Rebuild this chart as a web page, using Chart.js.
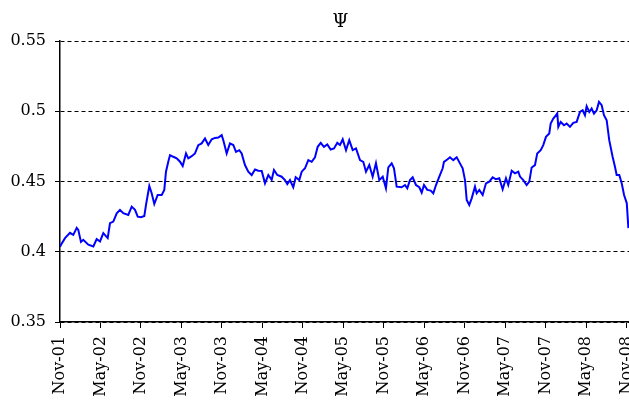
<!DOCTYPE html>
<html>
<head>
<meta charset="utf-8">
<script src="https://cdn.jsdelivr.net/npm/chart.js@4"></script>
<style>
  html, body { margin: 0; padding: 0; background: #fff; }
  #wrap { width: 629px; height: 400px; }
</style>
</head>
<body>
<div id="wrap"><canvas id="psi-chart" width="629" height="400"></canvas></div>
<script>
// months counted from Nov-01
const months = [
  0, 0.15, 0.74, 1.48, 1.97, 2.48, 2.71, 3.11, 3.45, 4.2, 4.94, 5.44, 5.93, 6.42, 7.07, 7.41,
  7.9, 8.41, 8.89, 9.38, 10.12, 10.63, 11.12, 11.52, 12.01, 12.5, 12.75, 13.24, 13.59, 13.98,
  14.48, 15.08, 15.46, 15.71, 16.05, 16.31, 16.8, 17.3, 17.79, 18.19, 18.68, 19.02, 19.52,
  20.01, 20.5, 21.0, 21.49, 21.98, 22.49, 22.98, 23.47, 23.97, 24.21, 24.71, 25.2, 25.69,
  26.09, 26.58, 26.93, 27.42, 27.91, 28.42, 28.91, 29.4, 29.9, 30.39, 30.88, 31.38, 31.72,
  32.21, 32.86, 33.35, 33.69, 34.09, 34.58, 34.94, 35.47, 35.83, 36.32, 36.81, 37.31, 37.8,
  38.2, 38.65, 39.13, 39.62, 40.13, 40.62, 41.11, 41.51, 41.91, 42.4, 42.88, 43.39, 43.88,
  44.47, 44.96, 45.36, 45.85, 46.35, 46.84, 47.33, 47.84, 48.32, 48.67, 49.17, 49.51, 49.91,
  50.65, 51.14, 51.48, 51.88, 52.28, 52.77, 53.26, 53.62, 53.96, 54.45, 54.95, 55.34, 55.74,
  56.23, 56.73, 56.92, 57.41, 57.81, 58.3, 58.81, 59.29, 59.69, 60.04, 60.29, 60.67, 61.03,
  61.52, 61.77, 62.16, 62.66, 63.15, 63.64, 64.14, 64.63, 65.12, 65.62, 66.11, 66.45, 66.96,
  67.45, 67.94, 68.19, 68.68, 69.18, 69.57, 69.92, 70.41, 70.75, 71.26, 71.64, 72.04, 72.53,
  72.74, 73.13, 73.53, 73.72, 73.87, 74.22, 74.71, 75.11, 75.6, 76.09, 76.59, 77.08, 77.48,
  77.82, 78.07, 78.46, 78.81, 79.16, 79.56, 79.9, 80.3, 80.64, 81.04, 81.42, 81.92, 82.27,
  82.52, 82.91, 83.27, 83.62, 84.02, 84.26
];

const psi = [
  0.4035, 0.405, 0.4097, 0.4135, 0.412, 0.417, 0.4156, 0.407, 0.4085, 0.405, 0.4038, 0.409, 0.4073, 0.4132, 0.4097, 0.4203,
  0.4215, 0.4274, 0.4298, 0.4274, 0.4262, 0.4321, 0.4298, 0.425, 0.4246, 0.4255, 0.4333, 0.4468, 0.4416, 0.434,
  0.4404, 0.4404, 0.444, 0.457, 0.464, 0.4688, 0.4676, 0.4665, 0.4641, 0.461, 0.47, 0.4665, 0.468,
  0.47, 0.4759, 0.4771, 0.4806, 0.476, 0.48, 0.481, 0.4813, 0.483, 0.4794, 0.47, 0.4771, 0.476,
  0.4711, 0.4723, 0.47, 0.4617, 0.457, 0.4546, 0.4585, 0.4577, 0.4575, 0.4487, 0.4546, 0.4512, 0.4582,
  0.4546, 0.4534, 0.451, 0.4482, 0.451, 0.4459, 0.453, 0.451, 0.457, 0.4594, 0.4652, 0.464, 0.4672,
  0.4747, 0.4775, 0.4747, 0.4764, 0.4728, 0.4735, 0.4775, 0.476, 0.48, 0.4723, 0.4794, 0.4723, 0.4735,
  0.4652, 0.464, 0.457, 0.4617, 0.4534, 0.463, 0.451, 0.4534, 0.4452, 0.46, 0.4629, 0.4594, 0.4463,
  0.4459, 0.4475, 0.4452, 0.451, 0.453, 0.4475, 0.4459, 0.4421, 0.4475, 0.444, 0.4435, 0.4416, 0.4475,
  0.4534, 0.4594, 0.464, 0.4657, 0.4672, 0.4652, 0.4672, 0.4629, 0.4594, 0.451, 0.4369, 0.4333, 0.438,
  0.4463, 0.4416, 0.444, 0.4404, 0.4487, 0.4499, 0.453, 0.4516, 0.4523, 0.4445, 0.4523, 0.4475, 0.4577,
  0.4558, 0.457, 0.4535, 0.451, 0.4475, 0.4499, 0.46, 0.4617, 0.47, 0.4723, 0.4759, 0.4818, 0.4842,
  0.4913, 0.4948, 0.4972, 0.4985, 0.4889, 0.4924, 0.49, 0.4913, 0.4889, 0.4917, 0.4924, 0.4995, 0.5007,
  0.4972, 0.5036, 0.4995, 0.5019, 0.4983, 0.5007, 0.5066, 0.5043, 0.4972, 0.4936, 0.4794, 0.4676, 0.4605,
  0.4546, 0.4546, 0.4487, 0.4404, 0.4345, 0.4168
];

const tickLabels = [
  'Nov-01', 'May-02', 'Nov-02', 'May-03', 'Nov-03', 'May-04', 'Nov-04', 'May-05',
  'Nov-05', 'May-06', 'Nov-06', 'May-07', 'Nov-07', 'May-08', 'Nov-08'
];

const serif = '"DejaVu Serif", serif';

// title drawn by hand so it sits over the plot area
const psiTitle = {
  id: 'psiTitle',
  afterDraw(chart) {
    const { ctx, chartArea } = chart;
    ctx.save();
    ctx.font = '18px ' + serif;
    ctx.fillStyle = '#000';
    ctx.textAlign = 'center';
    ctx.textBaseline = 'middle';
    ctx.fillText('Ψ', (chartArea.left + chartArea.right) / 2 - 4, 22);
    ctx.restore();
  }
};

new Chart(document.getElementById('psi-chart'), {
  type: 'line',
  data: {
    datasets: [{
      data: months.map((m, i) => ({ x: m, y: psi[i] })),
      borderColor: '#0000ff',
      borderWidth: 2,
      pointRadius: 0,
      tension: 0,
      fill: false
    }]
  },
  options: {
    responsive: false,
    animation: false,
    layout: { padding: { top: 41, right: 0, left: 0, bottom: 0 } },
    plugins: {
      legend: { display: false },
      tooltip: { enabled: false }
    },
    scales: {
      x: {
        type: 'linear',
        min: 0,
        max: 84.35,
        afterBuildTicks: scale => {
          scale.ticks = tickLabels.map((_, i) => ({ value: i * 6 }));
        },
        afterFit: scale => {
          // let the plot run to the right edge; the last label is cut off
          scale.height = 78;
          scale.paddingLeft = 0;
          scale.paddingRight = 0;
        },
        grid: { drawOnChartArea: false, drawTicks: true, tickLength: 6, color: '#000', lineWidth: 1 },
        border: { display: true, color: '#000', width: 1.5 },
        ticks: {
          autoSkip: false,
          minRotation: 90,
          maxRotation: 90,
          padding: 8,
          color: '#000',
          font: { family: serif, size: 16 },
          callback: v => tickLabels[Math.round(v / 6)]
        }
      },
      y: {
        min: 0.35,
        max: 0.55,
        afterFit: scale => {
          scale.width = 60;
          scale.paddingTop = 0;
          scale.paddingBottom = 0;
        },
        grid: { color: '#000', lineWidth: 1, tickLength: 5, tickColor: '#000' },
        border: { display: true, color: '#000', width: 1.5, dash: [4, 3] },
        ticks: {
          stepSize: 0.05,
          padding: 9,
          color: '#000',
          font: { family: serif, size: 16 },
          callback: v => String(Number(v.toFixed(2)))
        }
      }
    }
  },
  plugins: [psiTitle]
});
</script>
</body>
</html>
